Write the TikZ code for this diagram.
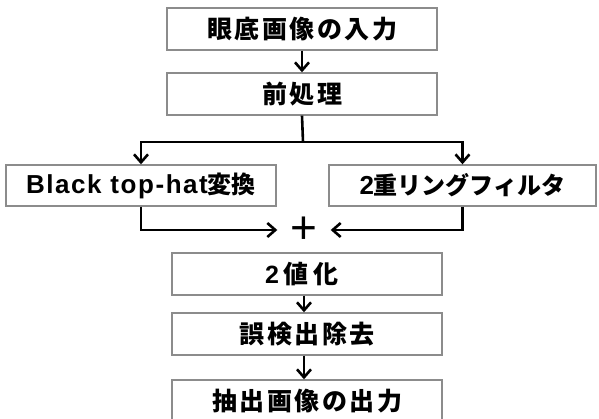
\documentclass[tikz,border=0pt]{standalone}
\usepackage{fontspec}
\setmainfont{Liberation Sans}
\newfontfamily\jp{Noto Sans CJK JP}
\newfontfamily\jpw{Noto Sans CJK JP}[LetterSpace=10]
\newfontfamily\latw{Liberation Sans}[LetterSpace=10]
\newfontfamily\lats{Liberation Sans}[LetterSpace=6]
\usetikzlibrary{arrows.meta}
\definecolor{boxgray}{RGB}{140,140,140}
\begin{document}
\begin{tikzpicture}[x=1pt,y=-1pt,
  box/.style={draw=boxgray, line width=1.4pt, rectangle, minimum width=270pt, minimum height=42pt, inner sep=0pt, anchor=center},
  mainbox/.style={box, font=\fontsize{25}{25}\selectfont\bfseries\jpw},
  sidebox/.style={box, minimum height=41pt, font=\fontsize{24}{24}\selectfont\bfseries},
  conn/.style={line width=2.6pt, black},
  arr/.style={conn, -{Straight Barb[length=8pt,width=14pt]}}]
\useasboundingbox (0,0) rectangle (599,418);
\node[mainbox] (n1) at (302,29) {眼底画像の入力};
\node[mainbox] (n2) at (302,94) {前処理};
\node[sidebox, minimum width=270pt] (nL) at (141,185.5) {{\fontsize{26}{26}\selectfont\lats Black top-hat}{\jp 変換}};
\node[sidebox, minimum width=267pt] (nR) at (462.5,185.5) {{\fontsize{26}{26}\selectfont\lats 2}{\jp 重リングフィルタ}};
\node[font=\fontsize{46}{46}\selectfont, minimum width=53pt, inner sep=0pt] (plus) at (304,230) {+};
\node[mainbox] (n3) at (307,274) {{\latw 2}\hspace{5pt}値\hspace{5pt}化\hspace*{10pt}};
\node[mainbox] (n4) at (307,334) {誤検出除去};
\node[mainbox] (n5) at (307,401) {抽出画像の出力};
\coordinate (split) at (303,142);
\draw[arr] (n1.south) -- (n2.north);
\draw[conn] (n2.south) -- (split);
\draw[arr] (split) -| (nL.north);
\draw[arr] (split) -| (nR.north);
\draw[arr] (nL.south) |- (plus.west);
\draw[arr] (nR.south) |- (plus.east);
\draw[arr] (n3.south -| plus) -- (n4.north -| plus);
\draw[arr] (n4.south -| plus) -- (n5.north -| plus);
\end{tikzpicture}
\end{document}
